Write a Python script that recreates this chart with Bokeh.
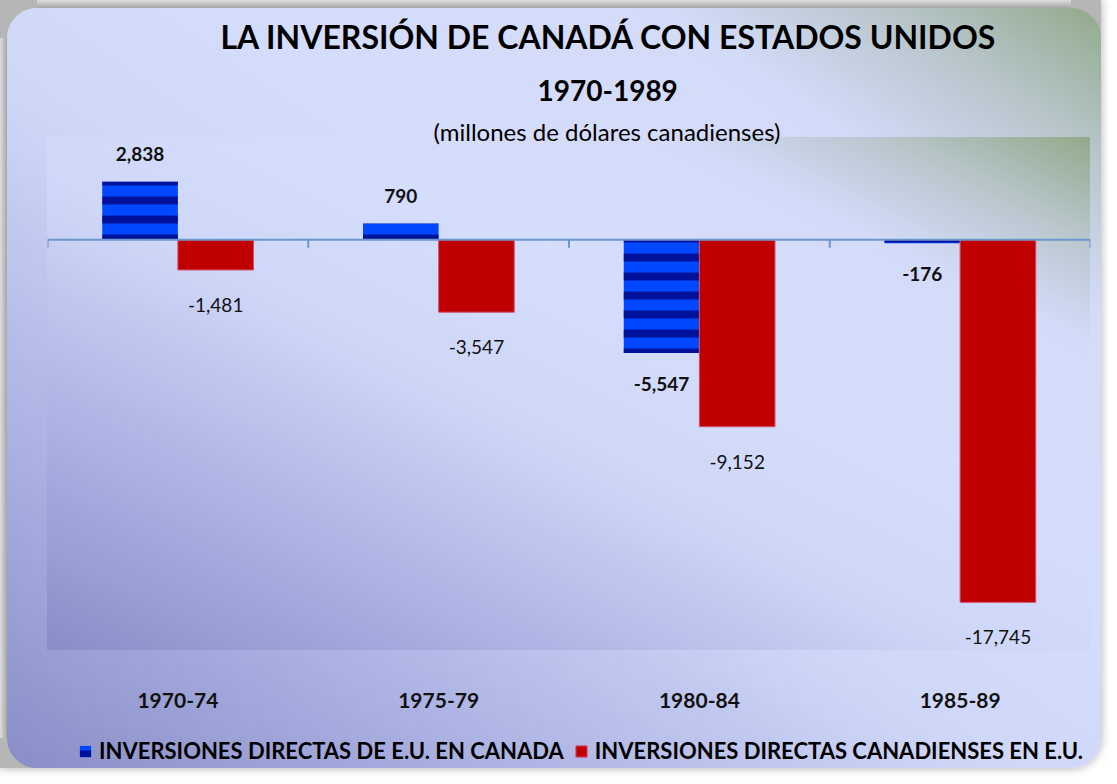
from bokeh.plotting import figure
from bokeh.models import (ColumnDataSource, FactorRange, Range1d, Span, LabelSet,
                          Title, Legend, LegendItem)
from bokeh.transform import dodge
from bokeh.embed import file_html
from bokeh.resources import INLINE
from bokeh.core.properties import value

# ---------------- data ----------------
periods = ["1970-74", "1975-79", "1980-84", "1985-89"]
us_in_canada = [2838, 790, -5547, -176]          # blue series
canada_in_us = [-1481, -3547, -9152, -17745]     # red series
series_names = ["INVERSIONES DIRECTAS DE E.U. EN CANADA",
                "INVERSIONES DIRECTAS CANADIENSES EN E.U."]
title_text = "LA INVERSIÓN DE CANADÁ CON ESTADOS UNIDOS"
subtitle_text = "1970-1989"
unit_text = "(millones de dólares canadienses)"

FONT = "Lato"
W, H = 1101, 768      # figure incl. the shadow strip on the top/left
PX, PY = 7, 8         # where the rounded panel starts inside the figure
LEFT = 47             # figure px left of the plotting area
TOP = 137             # figure px above the plotting area
PLOT_W, PLOT_H = 1043, 513
upp = (5000 - (-20100)) / PLOT_H       # data units per pixel
Y1 = 5000
Y0 = Y1 - (H - TOP) * upp              # frame runs to the bottom of the panel

src = ColumnDataSource(dict(
    period=periods,
    us=us_in_canada,
    ca=canada_in_us,
    us_lbl=[f"{v:,}" for v in us_in_canada],
    ca_lbl=[f"{v:,}" for v in canada_in_us],
    us_off=[28 if v >= 0 else -31 for v in us_in_canada],
    ca_off=[28 if v >= 0 else -35 for v in canada_in_us],
))
cat_src = ColumnDataSource(dict(period=periods,
                                y=[Y1 - (PLOT_H + 50) * upp] * len(periods)))

p = figure(width=W, height=H,
           x_range=FactorRange(factors=periods, range_padding=0),
           y_range=Range1d(Y0, Y1),
           output_backend="svg", toolbar_location=None,
           min_border_left=LEFT, min_border_right=W - LEFT - PLOT_W,
           min_border_top=TOP, min_border_bottom=0)

G = ("linear-gradient(to top right, #898dc6 0%, #a8aee0 20%, #cfd7f8 45%, "
     "#d5ddfc 62%, #d3dbf8 80%, #b8c6cc 90%, #92aa8a 100%)")
SH = "#b6b6b6"
p.styles = {
    "border-radius": "0px 0px 30px 0px",
    "box-shadow": "0 0 8px 1px rgba(0,0,0,0.28)",
    "background": (
        f"radial-gradient(circle at 37px 38px, transparent 29.5px, {SH} 30.5px) 0 0 / 37px 38px no-repeat, "
        f"radial-gradient(circle at 0px 38px, transparent 29.5px, {SH} 30.5px) right 0 top 0 / 30px 38px no-repeat, "
        f"radial-gradient(circle at 37px 0px, transparent 29.5px, {SH} 30.5px) left 0 bottom 0 / 37px 30px no-repeat, "
        f"{G} {LEFT}px {TOP}px / {PLOT_W}px {PLOT_H}px no-repeat, "
        f"{G} {PX}px {PY}px / {W - PX}px {H - PY}px no-repeat, "
        "linear-gradient(to bottom, #dedede, #a6a6a6) 0 0 / 100% 8px no-repeat, "
        "linear-gradient(to right, #dedede, #a6a6a6) 0 0 / 7px 100% no-repeat"
    ),
}
p.background_fill_color = None
p.border_fill_color = None
p.outline_line_color = None
p.xgrid.visible = False
p.ygrid.visible = False
p.yaxis.visible = False
p.xaxis.visible = False

# category names under the plot area
p.add_layout(LabelSet(x="period", y="y", text="period", source=cat_src,
                      text_align="center", text_baseline="middle",
                      text_font=value(FONT), text_font_style="bold",
                      text_font_size="21px", text_color="#111111"))

# zero line and category boundary ticks
p.add_layout(Span(location=0, dimension="width", line_color="#6e96cc", line_width=2))
bounds = list(range(len(periods) + 1))
p.segment(x0=bounds, x1=bounds, y0=[0] * len(bounds), y1=[-8 * upp] * len(bounds),
          line_color="#6e96cc", line_width=2)

r_us = p.vbar(x=dodge("period", -0.145, range=p.x_range), top="us", bottom=0,
              width=0.29, source=src, fill_color="#0048ff", line_color=None,
              hatch_pattern="horizontal_line", hatch_color="#00007a",
              hatch_weight=8, hatch_scale=19, hatch_alpha=0.75)
r_ca = p.vbar(x=dodge("period", 0.145, range=p.x_range), top="ca", bottom=0,
              width=0.29, source=src, fill_color="#c00000",
              line_color="#d0506e", line_width=1)

p.add_layout(LabelSet(x=dodge("period", -0.145, range=p.x_range), y="us", text="us_lbl",
                      y_offset="us_off", source=src, text_align="center",
                      text_baseline="middle", text_font=value(FONT),
                      text_font_style="bold", text_font_size="19px",
                      text_color="#111111"))
p.add_layout(LabelSet(x=dodge("period", 0.145, range=p.x_range), y="ca", text="ca_lbl",
                      y_offset="ca_off", source=src, text_align="center",
                      text_baseline="middle", text_font=value(FONT),
                      text_font_style="normal", text_font_size="19px",
                      text_color="#111111"))

# titles (first added sits nearest the plot area)
p.add_layout(Title(text=unit_text, align="left", offset=386, standoff=-16,
                   text_font=FONT, text_font_style="normal", text_font_size="24px",
                   text_color="#000000"), "above")
p.add_layout(Title(text=subtitle_text, align="left", offset=490, standoff=44,
                   text_font=FONT, text_font_style="bold", text_font_size="28px",
                   text_color="#000000"), "above")
p.add_layout(Title(text=title_text, align="left", offset=173, standoff=-1,
                   text_font=FONT, text_font_style="bold", text_font_size="32px",
                   text_color="#000000"), "above")

legend = Legend(items=[LegendItem(label=series_names[0], renderers=[r_us]),
                       LegendItem(label=series_names[1], renderers=[r_ca])],
                orientation="horizontal", location=(31, 4),
                background_fill_alpha=0, border_line_color=None,
                padding=0, margin=0, spacing=10, label_standoff=7,
                glyph_width=14, glyph_height=14, label_height=20,
                label_text_font=FONT, label_text_font_style="bold",
                label_text_font_size="22px", label_text_color="#000000")
p.add_layout(legend, "center")

open("out.html", "w").write(file_html(p, INLINE))
